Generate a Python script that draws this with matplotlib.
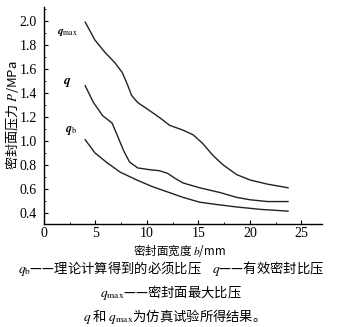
import matplotlib.pyplot as plt
from matplotlib.ticker import MultipleLocator

plt.rcParams['font.family'] = ['Liberation Serif', 'Noto Sans CJK SC']
plt.rcParams['mathtext.fontset'] = 'stix'

# values
b_max = [4.0, 4.95, 5.9, 6.9, 7.6, 8.1, 8.5, 9.1, 10.3, 11.3, 12.2, 13.5, 14.5,
         15.4, 16.4, 17.4, 18.7, 20.0, 21.7, 23.7]
q_max = [1.99, 1.84, 1.74, 1.65, 1.57, 1.47, 1.38, 1.32, 1.25, 1.19, 1.13, 1.09, 1.05,
         0.98, 0.88, 0.80, 0.72, 0.675, 0.64, 0.61]

b_q = [4.0, 4.8, 5.7, 6.6, 7.1, 7.7, 8.3, 9.1, 10.3, 11.2, 12.0, 12.7, 13.5, 15.1,
       17.1, 18.7, 20.0, 21.7, 23.7]
q_eff = [1.46, 1.32, 1.21, 1.15, 1.05, 0.925, 0.825, 0.775, 0.76, 0.752, 0.73, 0.69, 0.65, 0.61,
         0.57, 0.53, 0.51, 0.495, 0.495]

b_b = [4.0, 4.95, 6.1, 7.4, 9.0, 10.5, 12.0, 13.5, 15.1, 16.8, 18.7, 21.0, 23.7]
q_b = [1.01, 0.90, 0.82, 0.74, 0.675, 0.62, 0.575, 0.53, 0.49, 0.47, 0.45, 0.43, 0.415]

cjk = ['Noto Sans CJK SC', 'DejaVu Sans']

fig = plt.figure(figsize=(3.42, 3.27), dpi=100)
ax = fig.add_axes([0.1287, 0.315, 0.8128, 0.664])

for x, y in [(b_max, q_max), (b_q, q_eff), (b_b, q_b)]:
    ax.plot(x, y, color='#222222', lw=1.0)

ax.text(2.3, 1.9, r'$\boldsymbol{q}_{\rm max}$', fontsize=8, ha='center', va='center')
ax.text(2.2, 1.49, r'$\boldsymbol{q}$', fontsize=9.5, ha='center', va='center')
ax.text(2.6, 1.09, r'$\boldsymbol{q}_{\rm b}$', fontsize=8.5, ha='center', va='center')

ax.set_xlim(0, 27)
ax.set_ylim(0.308, 2.117)
ax.set_xticks([0, 5, 10, 15, 20, 25])
ax.set_yticks([0.4, 0.6, 0.8, 1.0, 1.2, 1.4, 1.6, 1.8, 2.0])
ax.xaxis.set_minor_locator(MultipleLocator(2.5))
ax.yaxis.set_minor_locator(MultipleLocator(0.1))
ax.tick_params(direction='in', length=3, width=0.8, labelsize=10)
ax.tick_params(axis='x', pad=2.5)
ax.tick_params(axis='y', pad=5)
ax.tick_params(which='minor', direction='in', length=1.5, width=0.6)
ax.spines['top'].set_visible(False)
ax.spines['right'].set_visible(False)
for s in ['left', 'bottom']:
    ax.spines[s].set_linewidth(1.0)

ax.set_xlabel('密封面宽度 $b$/mm', fontsize=8.3, family=cjk, va='center', ha='center')
ax.xaxis.set_label_coords(0.486, -0.12)
ax.set_ylabel('密封面压力 $P$/MPa', fontsize=9.5, family=cjk, va='center', ha='center')
ax.yaxis.set_label_coords(-0.115, 0.50)

fig.text(0.5, 1 - 269/327, r'$q_{\rm b}$——理论计算得到的必须比压    $q$——有效密封比压',
         ha='center', va='center', fontsize=9.6, family=cjk)
fig.text(0.5, 1 - 293/327, r'$q_{\rm max}$——密封面最大比压',
         ha='center', va='center', fontsize=9.6, family=cjk)
fig.text(0.5, 1 - 316/327, r'$q$ 和 $q_{\rm max}$为仿真试验所得结果。',
         ha='center', va='center', fontsize=9.6, family=cjk)

fig.savefig('out.png', dpi=100)
